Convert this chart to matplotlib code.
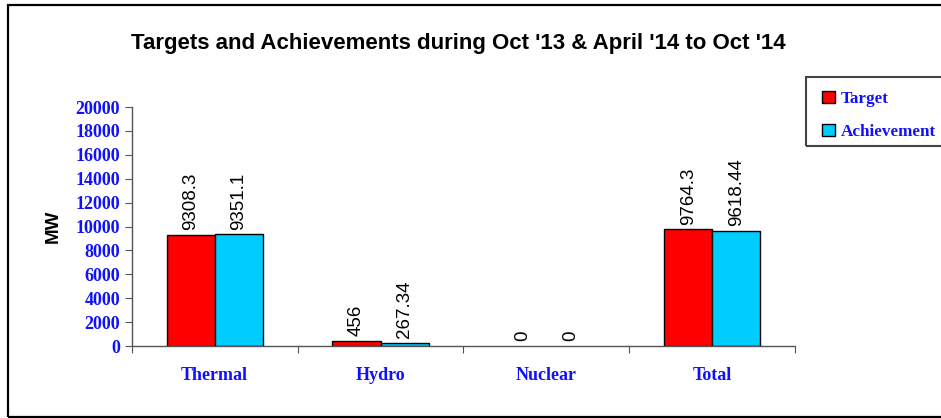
import numpy as np
import matplotlib.pyplot as plt
from matplotlib.patches import Rectangle

categories = ['Thermal', 'Hydro', 'Nuclear', 'Total']
target = [9308.3, 456, 0, 9764.3]
achievement = [9351.1, 267.34, 0, 9618.44]
target_labels = ['9308.3', '456', '0', '9764.3']
achievement_labels = ['9351.1', '267.34', '0', '9618.44']

blue = '#1010ff'
fig = plt.figure(figsize=(9.41, 4.18), dpi=100)
ax = fig.add_axes([0.140, 0.172, 0.705, 0.572])

x = np.arange(len(categories))
w = 0.29
for xs, vals, col, name in [(x - w / 2, target, '#ff0000', 'Target'),
                            (x + w / 2, achievement, '#00ccff', 'Achievement')]:
    bars = ax.bar(xs, vals, w, color=col, edgecolor='black', linewidth=1, label=name)
    for b, v in zip(bars, vals):
        if v == 0:
            b.set_linewidth(0)

for xi, v, s in zip(x - w / 2, target, target_labels):
    ax.text(xi, v + 400, s, rotation=90, ha='center', va='bottom', fontsize=13.5, family='Liberation Sans')
for xi, v, s in zip(x + w / 2, achievement, achievement_labels):
    ax.text(xi, v + 400, s, rotation=90, ha='center', va='bottom', fontsize=13.5, family='Liberation Sans')

ax.set_xlim(-0.5, len(categories) - 0.5)
ax.set_ylim(0, 20000)
ax.set_yticks(np.arange(0, 20001, 2000))
ax.set_xticks(np.arange(len(categories) + 1) - 0.5)
ax.set_xticklabels([])
ax.tick_params(axis='x', length=5, color='#555555')
ax.tick_params(axis='y', length=5, color='#555555', labelcolor=blue, labelsize=13)
for lbl in ax.get_yticklabels():
    lbl.set_family('Liberation Serif')
    lbl.set_fontweight('bold')
for xi, c in zip(x, categories):
    ax.text(xi, -1750, c, ha='center', va='top', color=blue, fontsize=13,
            fontweight='bold', family='Liberation Serif')

for s in ['top', 'right']:
    ax.spines[s].set_visible(False)
for s in ['left', 'bottom']:
    ax.spines[s].set_color('#555555')
    ax.spines[s].set_linewidth(1)

ax.set_ylabel('MW', fontsize=13.5, fontweight='bold', family='Liberation Sans', labelpad=10)

fig.text(0.487, 0.897, "Targets and Achievements during Oct '13 & April '14 to Oct '14",
         ha='center', va='center', fontsize=16, fontweight='bold', family='Liberation Sans')

# legend box runs off the right edge, as in the original
leg = ax.legend(loc='upper left', bbox_to_anchor=(0.861, 0.812), bbox_transform=fig.transFigure,
                frameon=False, handlelength=0.75, handleheight=0.75,
                borderpad=0.2, labelspacing=1.0, handletextpad=0.35,
                prop={'family': 'Liberation Serif', 'weight': 'bold', 'size': 12.3})
for t in leg.get_texts():
    t.set_color(blue)
fig.patches.append(Rectangle((0.857, 0.651), 0.2, 0.165, transform=fig.transFigure,
                             fill=False, edgecolor='#444444', linewidth=1.5))

fig.patches.append(Rectangle((0.0085, 0.002), 1.1, 0.986, transform=fig.transFigure,
                             fill=False, edgecolor='black', linewidth=1.6))

fig.savefig('out.png', dpi=100)
